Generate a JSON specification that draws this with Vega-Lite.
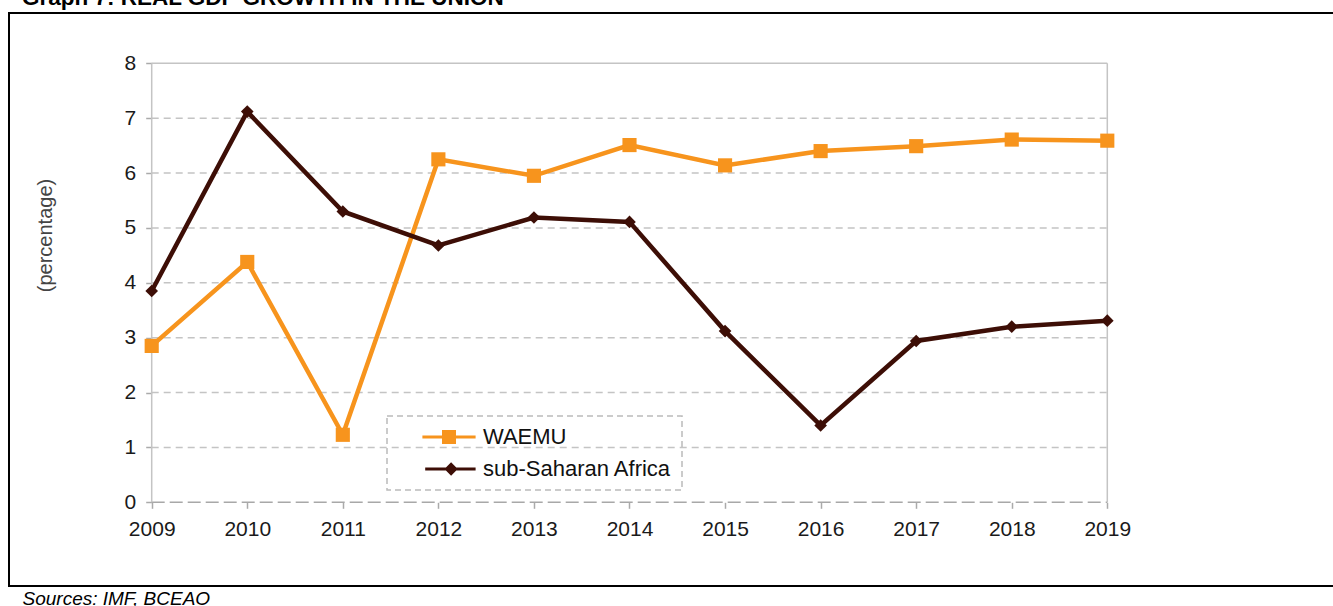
{
  "$schema": "https://vega.github.io/schema/vega-lite/v6.json",
  "autosize": "none",
  "width": 1327,
  "height": 573,
  "padding": {"left": 9, "top": 13, "right": -3, "bottom": 20},
  "background": "white",
  "config": {"view": {"stroke": "#000000", "strokeWidth": 2}, "font": "Liberation Sans"},
  "title": {
    "text": "Graph 7: REAL GDP GROWTH IN THE UNION",
    "anchor": "start",
    "frame": "group",
    "dx": 13,
    "dy": 14,
    "offset": 0,
    "baseline": "alphabetic",
    "fontSize": 22.5,
    "font": "Liberation Sans",
    "fontWeight": "bold",
    "color": "#000000"
  },
  "datasets": {
    "series": [
      {"year": 2009, "series": "WAEMU", "value": 2.85},
      {"year": 2010, "series": "WAEMU", "value": 4.38},
      {"year": 2011, "series": "WAEMU", "value": 1.23},
      {"year": 2012, "series": "WAEMU", "value": 6.25},
      {"year": 2013, "series": "WAEMU", "value": 5.95},
      {"year": 2014, "series": "WAEMU", "value": 6.51},
      {"year": 2015, "series": "WAEMU", "value": 6.14},
      {"year": 2016, "series": "WAEMU", "value": 6.40},
      {"year": 2017, "series": "WAEMU", "value": 6.49},
      {"year": 2018, "series": "WAEMU", "value": 6.61},
      {"year": 2019, "series": "WAEMU", "value": 6.59},
      {"year": 2009, "series": "sub-Saharan Africa", "value": 3.85},
      {"year": 2010, "series": "sub-Saharan Africa", "value": 7.12},
      {"year": 2011, "series": "sub-Saharan Africa", "value": 5.30},
      {"year": 2012, "series": "sub-Saharan Africa", "value": 4.68},
      {"year": 2013, "series": "sub-Saharan Africa", "value": 5.19},
      {"year": 2014, "series": "sub-Saharan Africa", "value": 5.11},
      {"year": 2015, "series": "sub-Saharan Africa", "value": 3.12},
      {"year": 2016, "series": "sub-Saharan Africa", "value": 1.40},
      {"year": 2017, "series": "sub-Saharan Africa", "value": 2.94},
      {"year": 2018, "series": "sub-Saharan Africa", "value": 3.20},
      {"year": 2019, "series": "sub-Saharan Africa", "value": 3.31}
    ],
    "grid": [
      {"level": 0}, {"level": 1}, {"level": 2}, {"level": 3}, {"level": 4},
      {"level": 5}, {"level": 6}, {"level": 7}, {"level": 8}
    ],
    "edges": [{"year": 2009}, {"year": 2019}]
  },
  "layer": [
    {
      "data": {"name": "grid"},
      "transform": [{"filter": "datum.level > 0 && datum.level < 8"}],
      "mark": {"type": "rule", "stroke": "#c4c4c4", "strokeWidth": 1.5, "strokeDash": [7, 5]},
      "encoding": {
        "y": {"field": "level", "type": "quantitative"},
        "x": {"datum": 2009, "type": "quantitative"},
        "x2": {"datum": 2019}
      }
    },
    {
      "data": {"name": "grid"},
      "transform": [{"filter": "datum.level == 8"}],
      "mark": {"type": "rule", "stroke": "#c4c4c4", "strokeWidth": 1.5},
      "encoding": {
        "y": {"field": "level", "type": "quantitative"},
        "x": {"datum": 2009, "type": "quantitative"},
        "x2": {"datum": 2019}
      }
    },
    {
      "data": {"name": "grid"},
      "transform": [{"filter": "datum.level == 0"}],
      "mark": {"type": "rule", "stroke": "#a8a8a8", "strokeWidth": 1.5, "strokeDash": [13, 5]},
      "encoding": {
        "y": {"field": "level", "type": "quantitative"},
        "x": {"datum": 2009, "type": "quantitative"},
        "x2": {"datum": 2019}
      }
    },
    {
      "data": {"name": "edges"},
      "mark": {"type": "rule", "stroke": "#c4c4c4", "strokeWidth": 1.5},
      "encoding": {
        "x": {"field": "year", "type": "quantitative"},
        "y": {"datum": 0, "type": "quantitative"},
        "y2": {"datum": 8}
      }
    },
    {
      "data": {"name": "series"},
      "mark": {"type": "line", "strokeWidth": 4.5},
      "encoding": {
        "x": {
          "field": "year", "type": "quantitative",
          "scale": {"domain": [2007.5067, 2021.3933], "nice": false, "zero": false},
          "axis": {
            "values": [2009, 2010, 2011, 2012, 2013, 2014, 2015, 2016, 2017, 2018, 2019],
            "format": "d", "offset": -83.7, "domain": false, "grid": false,
            "tickColor": "#aaaaaa", "tickSize": 6, "tickWidth": 1.5,
            "labelPadding": 10, "labelFontSize": 21, "labelColor": "#1a1a1a", "labelFont": "Liberation Sans",
            "labelFlush": false, "labelOverlap": false,
            "title": "Sources: IMF, BCEAO", "titleFontStyle": "italic", "titleFontWeight": "normal",
            "titleFontSize": 19, "titleColor": "#000000", "titleFont": "Liberation Sans",
            "titleX": 13, "titleY": 102.5, "titleAlign": "left", "titleAnchor": "start", "titleBaseline": "alphabetic"
          }
        },
        "y": {
          "field": "value", "type": "quantitative",
          "scale": {"domain": [-1.5253, 8.9166], "nice": false, "zero": false},
          "axis": {
            "values": [0, 1, 2, 3, 4, 5, 6, 7, 8],
            "format": "d", "offset": -142.7, "domain": false, "grid": false,
            "tickColor": "#aaaaaa", "tickSize": 6, "tickWidth": 1.5,
            "labelPadding": 10, "labelFontSize": 21, "labelColor": "#1a1a1a", "labelFont": "Liberation Sans",
            "title": "(percentage)", "titleFontSize": 20, "titleFontWeight": "normal", "titleColor": "#444444",
            "titleFont": "Liberation Sans", "titleAngle": 270, "titleX": -106.7, "titleY": 222,
            "titleAlign": "center", "titleBaseline": "middle"
          }
        },
        "color": {
          "field": "series", "type": "nominal",
          "scale": {"domain": ["WAEMU", "sub-Saharan Africa"], "range": ["#F7941D", "#3D0E06"]},
          "legend": {
            "orient": "none", "legendX": 378, "legendY": 403, "title": null,
            "labelFontSize": 22, "labelColor": "#111111", "labelFont": "Liberation Sans", "labelLimit": 0,
            "symbolSize": 196, "symbolStrokeWidth": 0,
            "strokeColor": "#bbbbbb", "padding": 10, "rowPadding": 10,
            "symbolOffset": 41, "labelOffset": 23,
            "encode": {
              "legend": {
                "update": {
                  "strokeDash": {"value": [6, 4]},
                  "strokeWidth": {"value": 1.5}
                }
              },
              "symbols": {
                "update": {
                  "shape": {"signal": "datum.value === 'WAEMU' ? 'M-3.8,-0.22H3.8V0.22H-3.8Z M-1,-1H1V1H-1Z' : 'M-3.4,-0.22H3.8V0.22H-3.4Z M0.3,-0.95L1.25,0L0.3,0.95L-0.65,0Z'"},
                  "fill": {"signal": "datum.value === 'WAEMU' ? '#F7941D' : '#3D0E06'"},
                  "strokeWidth": {"value": 0},
                  "opacity": {"value": 1}
                }
              }
            }
          }
        }
      }
    },
    {
      "data": {"name": "series"},
      "transform": [{"filter": "datum.series === 'WAEMU'"}],
      "mark": {"type": "point", "shape": "square", "filled": true, "size": 200, "opacity": 1},
      "encoding": {
        "x": {"field": "year", "type": "quantitative"},
        "y": {"field": "value", "type": "quantitative"},
        "color": {"field": "series", "type": "nominal"}
      }
    },
    {
      "data": {"name": "series"},
      "transform": [{"filter": "datum.series === 'sub-Saharan Africa'"}],
      "mark": {"type": "point", "shape": "diamond", "filled": true, "size": 160, "opacity": 1},
      "encoding": {
        "x": {"field": "year", "type": "quantitative"},
        "y": {"field": "value", "type": "quantitative"},
        "color": {"field": "series", "type": "nominal"}
      }
    }
  ]
}
